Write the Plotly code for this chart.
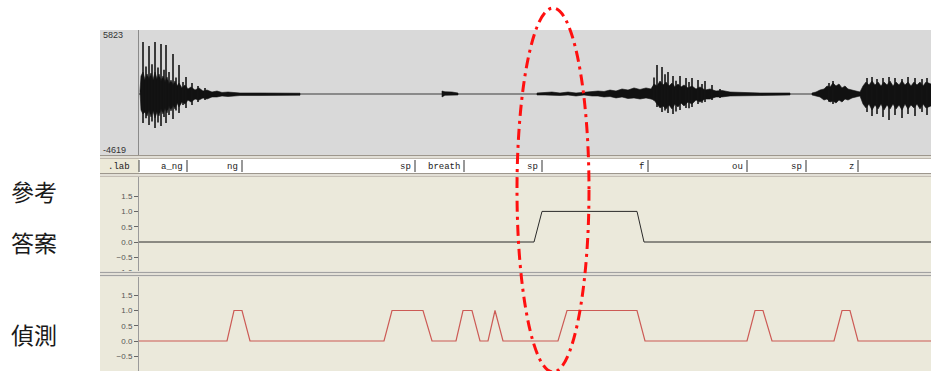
import plotly.graph_objects as go

W, H = 931, 371

# ---------------- data ----------------
# time axis (s) shared by all tiers
t_end = 3.96

# waveform envelope (samples); None separates voiced/unvoiced stretches
env_t = [0.005, 0.010, 0.020, 0.030, 0.040, 0.050, 0.060, 0.070, 0.080, 0.090, 0.100, 0.110, 0.120,
         0.130, 0.140, 0.150, 0.160, 0.170, 0.180, 0.190, 0.200, 0.215, 0.230, 0.245, 0.260, 0.280,
         0.300, 0.320, 0.340, 0.365, 0.390, 0.415, 0.445, 0.505, 0.605, 0.715, 0.805, None,
         1.515, 1.530, 1.565, 1.595, None,
         1.990, 2.030, 2.065, 2.105, 2.145, 2.185, 2.225, 2.265, 2.295, 2.325, 2.355, 2.385, 2.415,
         2.445, 2.475, 2.505, 2.535, 2.560, 2.575, 2.590, 2.605, 2.620, 2.635, 2.650, 2.665, 2.680,
         2.695, 2.710, 2.725, 2.745, 2.765, 2.785, 2.805, 2.830, 2.855, 2.885, 2.915, 2.955, 3.005,
         3.105, 3.255, None,
         3.365, 3.385, 3.405, 3.425, 3.440, 3.455, 3.470, 3.485, 3.500, 3.515, 3.530, 3.545, 3.565,
         3.585, 3.605, 3.620, 3.635, 3.650, 3.665, 3.680, 3.695, 3.710, 3.725, 3.740, 3.755, 3.770,
         3.785, 3.800, 3.815, 3.830, 3.845, 3.860, 3.875, 3.890, 3.905, 3.920, 3.935, 3.960]
env_hi = [270, 1640, 2000, 1270, 1820, 1370, 1910, 1270, 2000, 1370, 1820, 1180, 1640,
          1090, 1550, 910, 1270, 820, 1180, 730, 1000, 550, 820, 455, 640, 360,
          550, 270, 360, 180, 270, 140, 180, 90, 90, 90, 70, None,
          270, 200, 180, 90, None,
          90, 140, 180, 90, 180, 90, 180, 230, 270, 230, 360, 270, 455,
          360, 550, 410, 550, 455, 910, 730, 1180, 820, 1090, 730, 1000, 640,
          910, 640, 820, 550, 730, 455, 640, 360, 455, 270, 320, 180, 140,
          90, 90, None,
          90, 180, 360, 455, 730, 640, 1000, 730, 910, 550, 730, 455, 360,
          270, 180, 730, 1090, 820, 1180, 820, 1090, 730, 1090, 820, 1180, 730,
          1090, 820, 1180, 820, 1090, 730, 1090, 820, 1090, 730, 1090, 910]
env_lo = [-270, -1460, -1820, -1640, -2000, -1460, -2090, -1550, -2180, -1640, -2000, -1370, -1820,
          -1270, -1730, -1090, -1550, -1000, -1370, -820, -1180, -730, -910, -550, -730, -455,
          -550, -360, -455, -270, -270, -180, -230, -140, -140, -140, -110, None,
          -270, -120, -90, -90, None,
          -90, -90, -90, -140, -90, -180, -90, -180, -180, -270, -230, -360, -270,
          -410, -360, -455, -360, -455, -550, -910, -1270, -1090, -1370, -1000, -1370, -910,
          -1180, -820, -1090, -730, -910, -550, -730, -455, -455, -270, -270, -180, -140,
          -140, -90, None,
          -90, -180, -270, -550, -455, -730, -640, -820, -550, -730, -455, -550, -360,
          -270, -180, -910, -1270, -910, -1460, -1000, -1370, -910, -1460, -1000, -1370, -910,
          -1370, -1000, -1460, -910, -1370, -1000, -1270, -910, -1370, -910, -1270, -1090]

# individual glottal pulses (samples)
pulse_t = [0.020, 0.035, 0.050, 0.065, 0.080, 0.095, 0.110, 0.125, 0.135, 0.150, 0.170, 0.185, 0.200,
           0.220, 0.235, 0.265, 0.295, 0.330,
           2.575, 2.590, 2.615, 2.630, 2.645, 2.670, 2.685, 2.705, 2.735, 2.750, 2.765, 2.795, 2.815,
           2.830, 2.865, 2.905,
           3.450, 3.470, 3.640, 3.665, 3.690, 3.720, 3.750, 3.780, 3.815, 3.845, 3.880, 3.915, 3.940]
pulse_hi = [4730, 2500, 4370, 2700, 4730, 2400, 4550, 2200, 4460, 2000, 3640, 1500, 2640,
            1100, 1550, 1000, 730, 550,
            1500, 2640, 2460, 1800, 2000, 1640, 1200, 1640, 1460, 1100, 1460, 1270, 900,
            1180, 820, 455,
            1000, 1180, 1460, 1550, 1370, 1460, 1550, 1460, 1370, 1550, 1460, 1370, 1460]
pulse_lo = [-2640, -2200, -2820, -2500, -3090, -2600, -2910, -2100, -2640, -1900, -2280, -1500, -1730,
            -1000, -1270, -1000, -730, -550,
            -600, -1180, -1640, -1500, -1730, -1820, -1600, -1460, -1270, -1300, -1180, -910, -800,
            -730, -550, -360,
            -700, -900, -1640, -2000, -1820, -2090, -2370, -1910, -2180, -1820, -2000, -1640, -1910]

# phone labels: text and end time (s)
lab_text = ["a_ng", "ng", "sp", "breath", "sp", "f", "ou", "sp", "z"]
lab_end = [0.240, 0.515, 1.380, 1.625, 2.015, 2.545, 3.040, 3.335, 3.595]

# reference answer track
ref_t = [0.0, 1.975, 2.015, 2.490, 2.525, 3.960]
ref_v = [0, 0, 1, 1, 0, 0]

# detection output track
det_t = [0.0, 0.440, 0.475, 0.515, 0.555, 1.225, 1.265, 1.420, 1.465, 1.585, 1.620, 1.665, 1.705,
         1.745, 1.780, 1.820, 2.095, 2.140, 2.490, 2.530, 3.040, 3.080, 3.120, 3.165, 3.475, 3.515,
         3.555, 3.595, 3.960]
det_v = [0, 0, 1, 1, 0, 0, 1, 1, 0, 0, 1, 1, 0, 0, 1, 0, 0, 1, 1, 0, 0, 1, 1, 0, 0, 1, 1, 0, 0]

track_ticks = [-1.0, -0.5, 0.0, 0.5, 1.0, 1.5]
wave_max, wave_min = 5823, -4619


# ---------------- helpers ----------------
def px(x):
    return x / W


def py(y):
    return 1 - y / H


def segments(xs, *cols):
    out, cur = [], [[] for _ in range(len(cols) + 1)]
    for i, x in enumerate(xs):
        if x is None:
            out.append(cur)
            cur = [[] for _ in range(len(cols) + 1)]
        else:
            cur[0].append(x)
            for k, c in enumerate(cols):
                cur[k + 1].append(c[i])
    out.append(cur)
    return out


fig = go.Figure()

# waveform baseline
fig.add_trace(go.Scatter(x=[0, t_end], y=[0, 0], mode="lines",
                         line=dict(color="#8a8a8a", width=2), xaxis="x", yaxis="y",
                         hoverinfo="skip", showlegend=False))

# waveform body as filled envelope polygons
bx, by = [], []
for st, shi, slo in segments(env_t, env_hi, env_lo):
    bx += st + st[::-1] + [st[0], None]
    by += shi + slo[::-1] + [shi[0], None]
fig.add_trace(go.Scatter(x=bx, y=by, mode="lines", fill="toself", fillcolor="#111111",
                         line=dict(color="#111111", width=0.6), xaxis="x", yaxis="y",
                         hoverinfo="skip", showlegend=False))

# pulses as vertical strokes
sx, sy = [], []
for t, hi, lo in zip(pulse_t, pulse_hi, pulse_lo):
    sx += [t, t, None]
    sy += [lo, hi, None]
fig.add_trace(go.Scatter(x=sx, y=sy, mode="lines", line=dict(color="#141414", width=1.6),
                         xaxis="x", yaxis="y", hoverinfo="skip", showlegend=False))

# reference and detection tracks
fig.add_trace(go.Scatter(x=ref_t, y=ref_v, mode="lines", line=dict(color="#2a2a2a", width=1),
                         xaxis="x", yaxis="y2", showlegend=False))
fig.add_trace(go.Scatter(x=det_t, y=det_v, mode="lines", line=dict(color="#cc5a55", width=1.2),
                         xaxis="x", yaxis="y3", showlegend=False))

# ---------------- panel decoration ----------------
shapes = []


def rect(x0, y0, x1, y1, fill, layer="below"):
    shapes.append(dict(type="rect", xref="paper", yref="paper", x0=px(x0), x1=px(x1),
                       y0=py(y1), y1=py(y0), fillcolor=fill, line=dict(width=0), layer=layer))


def hline(y, color, x0=100, x1=W, width=1, layer="below"):
    shapes.append(dict(type="line", xref="paper", yref="paper", x0=px(x0), x1=px(x1),
                       y0=py(y), y1=py(y), line=dict(color=color, width=width), layer=layer))


rect(100, 30, W, 155, "#d9d9d9")
rect(100, 159, W, 173, "#ffffff")
rect(100, 159, 139, 173, "#ece9d8")
rect(100, 177, W, 271, "#ebe9db")
rect(100, 277, W, H, "#ebe9db")

# separators between tiers
rect(100, 155, W, 159, "#e2dfd6", "above")
hline(155.5, "#9d978d", layer="above")
hline(158.5, "#bdb7ad", layer="above")
rect(100, 173, W, 177, "#e2dfd6", "above")
hline(173.5, "#9d978d", layer="above")
hline(176.5, "#c4beb4", layer="above")
rect(100, 271, W, 277, "#e4e1d8", "above")
hline(272.5, "#a2a2a2", layer="above")
hline(275.5, "#a2a2a2", layer="above")

# label tier boundaries
shapes.append(dict(type="line", xref="paper", yref="paper", x0=px(139), x1=px(139),
                   y0=py(172), y1=py(160), line=dict(color="#444444", width=1), layer="above"))
for te in lab_end:
    shapes.append(dict(type="line", xref="x", yref="paper", x0=te, x1=te,
                       y0=py(172), y1=py(160), line=dict(color="#333333", width=1), layer="above"))

# red dash-dot ellipse around the sp -> f onset
shapes.append(dict(type="circle", xref="paper", yref="paper", x0=px(517), x1=px(589),
                   y0=py(372), y1=py(8),
                   line=dict(color="#ff1010", width=3, dash="11px,5px,3px,5px"), layer="above"))

annotations = []
for txt, te in zip(lab_text, lab_end):
    annotations.append(dict(x=te, y=py(166.5), xref="x", yref="paper", text=txt, showarrow=False,
                            xanchor="right", yanchor="middle", xshift=-2,
                            font=dict(family="Liberation Mono", size=9, color="#222222")))
annotations.append(dict(x=px(119), y=py(166.5), xref="paper", yref="paper", text=".lab",
                        showarrow=False, xanchor="center", yanchor="middle",
                        font=dict(family="Liberation Mono", size=9, color="#222222")))
annotations.append(dict(x=px(101), y=py(35), xref="paper", yref="paper", text=str(wave_max),
                        showarrow=False, xanchor="left", yanchor="middle",
                        font=dict(family="Liberation Sans", size=9, color="#333333")))
annotations.append(dict(x=px(101), y=py(150), xref="paper", yref="paper", text=str(wave_min),
                        showarrow=False, xanchor="left", yanchor="middle",
                        font=dict(family="Liberation Sans", size=9, color="#333333")))
for txt, yc in [("參考", 191), ("答案", 242), ("偵測", 334)]:
    annotations.append(dict(x=px(34), y=py(yc), xref="paper", yref="paper", text=txt,
                            showarrow=False, xanchor="center", yanchor="middle",
                            font=dict(family="Noto Sans CJK TC", size=23, color="#1a1a1a")))

track_axis = dict(tickmode="array", tickvals=track_ticks, tickformat=".1f", ticks="outside",
                  ticklen=4, tickcolor="#666666", showline=True, linecolor="#9a9a9a",
                  linewidth=1, showgrid=False, zeroline=False, anchor="x",
                  tickfont=dict(family="Liberation Sans", size=8, color="#555555"))

fig.update_layout(
    width=W, height=H, autosize=False,
    margin=dict(l=0, r=0, t=0, b=0),
    paper_bgcolor="#ffffff", plot_bgcolor="rgba(0,0,0,0)",
    xaxis=dict(domain=[px(139), 1], range=[0, t_end], visible=False),
    yaxis=dict(domain=[py(155), py(30)], range=[-5551, 5823], showticklabels=False,
               ticks="", showline=True, linecolor="#8a8a8a", showgrid=False, zeroline=False,
               anchor="x"),
    yaxis2=dict(domain=[py(276), py(177)], range=[(242 - 276) / 30.6, (242 - 177) / 30.6],
                **track_axis),
    yaxis3=dict(domain=[0, py(277)], range=[(341 - 371) / 30.5, (341 - 277) / 30.5],
                **track_axis),
    shapes=shapes, annotations=annotations,
)

fig.write_html("out.html")
